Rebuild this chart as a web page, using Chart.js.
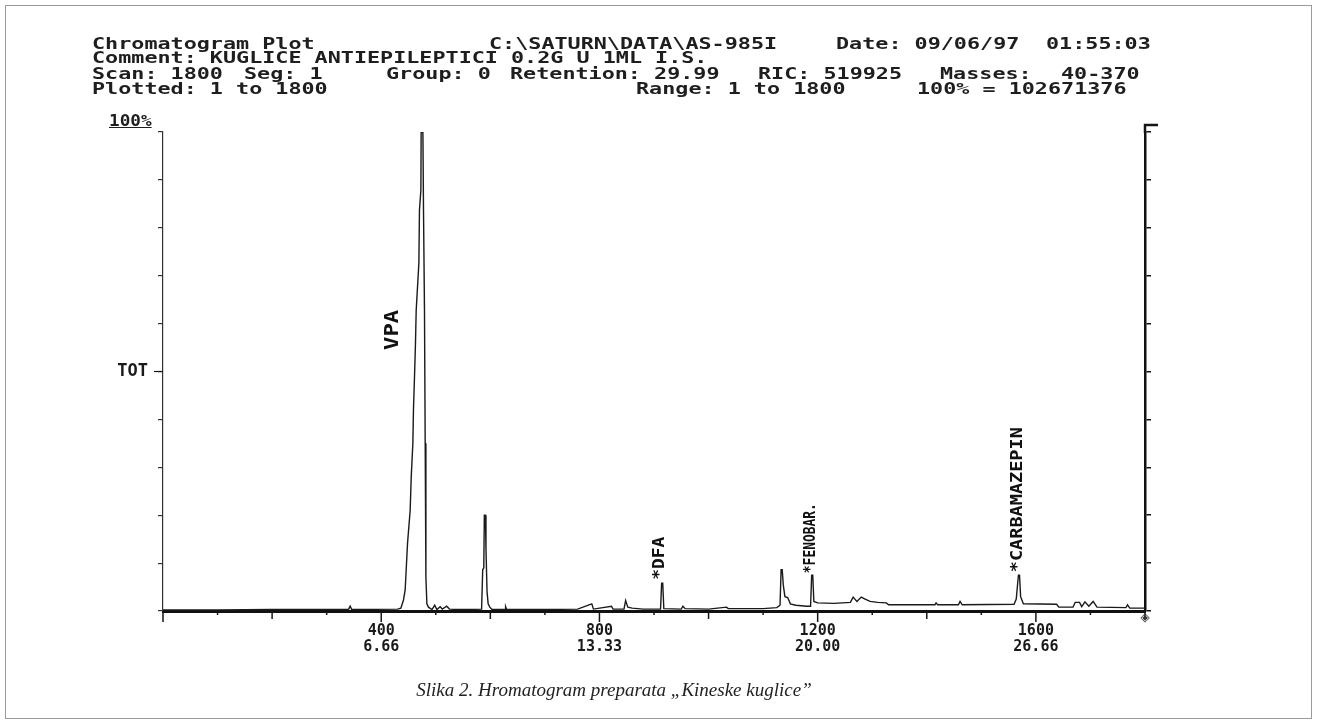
<!DOCTYPE html>
<html><head><meta charset="utf-8">
<script src="https://cdn.jsdelivr.net/npm/chart.js@4.4.0/dist/chart.umd.min.js"></script>
<style>
html,body{margin:0;padding:0;background:#fff;}
#wrap{position:relative;width:1317px;height:726px;overflow:hidden;background:#fff;}
#c{position:absolute;left:0;top:0;}
.hd{position:absolute;font:bold 15px "DejaVu Sans Mono",monospace;color:#1e1e1e;white-space:pre;transform-origin:0 50%;line-height:16px;}
#frame{position:absolute;left:5px;top:5px;width:1305px;height:712px;border:1px solid #9a9a9a;}
#cap{position:absolute;left:0;width:1228px;top:679px;text-align:center;font:italic 19px "Liberation Serif",serif;color:#222;}
</style></head><body>
<div id="wrap"><div id="frame"></div><canvas id="c" width="1317" height="726"></canvas><div id="cap">Slika 2. Hromatogram preparata „Kineske kuglice”</div></div>
<script>
// ---- data (scan number vs. total ion current, % of max) ----
const scans = [0,100,200,300,340,343,346,430,436,440.8,443.9,448.2,453.1,455,458,459.1,461,462.8,464.1,469,470.1,472.7,473.2,476.4,477.5,479.3,480.6,481.9,483.7,486.6,493,498,502,508,512,520,525,540,560,584,586,588,589,591,592,594,596,599,603,627,628,630,700,760,786,789,822,825,845,848,852,860,880,912,914,916,918,950,953,957,1000,1033,1036,1100,1125,1131,1133,1135,1137,1140,1145,1150,1160,1180,1187,1189,1191,1193,1200,1230,1260,1265,1272,1280,1287,1296,1310,1326,1330,1415,1417,1420,1458,1461,1465,1560,1564,1566,1568,1570,1572,1577,1638,1642,1668,1672,1680,1684,1690,1697,1705,1712,1765,1768,1772,1800];
const tot   = [0.2,0.2,0.3,0.3,0.3,1.0,0.3,0.4,0.6,2.3,4.4,14.1,21.1,28,35,42,48.9,55.9,62.8,72.6,83.7,87.9,100,100,83.7,62.8,35,7.1,1.5,0.8,0.3,1.2,0.3,0.9,0.4,1.0,0.4,0.3,0.3,0.4,8.6,9,20,20,13,4,1.5,0.8,0.3,0.3,0.9,0.3,0.3,0.4,1.5,0.4,1.0,0.4,0.4,2.2,0.8,0.6,0.4,0.4,5.8,5.8,0.5,0.4,1.0,0.5,0.4,0.8,0.5,0.5,0.7,1.2,8.6,8.6,5.4,3.0,2.8,1.5,1.2,1.0,1.0,7.5,7.5,2.0,1.7,1.6,1.8,2.9,2.0,2.9,2.5,2.0,1.8,1.7,1.3,1.3,1.7,1.3,1.3,2.0,1.3,1.4,2.5,5,7.5,7.5,3,1.5,1.4,0.8,0.8,1.8,1.8,0.9,1.9,1.0,2.0,0.8,0.7,1.3,0.6,0.6];

const xTickValues  = [400, 800, 1200, 1600];
const xTickMinutes = ['6.66', '13.33', '20.00', '26.66'];

const peakNames     = ['VPA', '*DFA', '*FENOBAR.', '*CARBAMAZEPIN'];
const peakScans     = [422, 912, 1188, 1567];
const peakLabelBase = [54.5, 6.5, 7.9, 8.1];

const headerLines = [
  ['Chromatogram Plot', 'C:\\SATURN\\DATA\\AS-985I', 'Date: 09/06/97', '01:55:03'],
  ['Comment: KUGLICE ANTIEPILEPTICI 0.2G U 1ML I.S.'],
  ['Scan: 1800', 'Seg: 1', 'Group: 0', 'Retention: 29.99', 'RIC: 519925', 'Masses:', '40-370'],
  ['Plotted: 1 to 1800', 'Range: 1 to 1800', '100% = 102671376']
];
// ---- layout for header text (pixels) ----
const headerX = [[92,489,836,1046],[92],[92,244,386,510,758,940,1061],[92,636,917]];
const headerY = [36,50,66,81];
const wrap = document.getElementById('wrap');
headerLines.forEach((line,i)=>line.forEach((t,j)=>{
  const d=document.createElement('div'); d.className='hd'; d.textContent=t;
  d.style.left=headerX[i][j]+'px'; d.style.top=headerY[i]+'px'; d.style.transform='scaleX(1.45)';
  wrap.appendChild(d);
}));
const pct=document.createElement('div'); pct.className='hd'; pct.textContent='100%';
pct.style.left='109px'; pct.style.top='113px'; pct.style.transform='scaleX(1.18)'; pct.style.textDecoration='underline';
wrap.appendChild(pct);

const CA = {left:163, right:1145, top:132, bottom:611};
const labelLen = [40, 43, 70, 145];
const labelSize = [19, 15, 15, 15];

const deco = {
  id:'deco',
  afterDraw(chart){
    const {ctx, chartArea:a, scales:{x,y}} = chart;
    ctx.save();
    ctx.strokeStyle='#151515';
    ctx.lineWidth=1.5;
    x.ticks.forEach(t=>{
      const v=t.value, px=x.getPixelForValue(v);
      const len = v%400===0 ? 11 : (v%200===0 ? 8 : 4);
      ctx.beginPath(); ctx.moveTo(px,a.bottom); ctx.lineTo(px,a.bottom+len); ctx.stroke();
    });
    const yt=y.getPixelForValue(50);
    ctx.lineWidth=1.2; ctx.beginPath(); ctx.moveTo(a.left-9,yt); ctx.lineTo(a.left,yt); ctx.stroke();
    ctx.lineWidth=2.5;
    ctx.beginPath(); ctx.moveTo(a.right,a.top+1); ctx.lineTo(a.right,a.top-7); ctx.lineTo(a.right+13,a.top-7); ctx.stroke();
    ctx.fillStyle='#333'; ctx.font='12px "DejaVu Sans"'; ctx.textAlign='center'; ctx.textBaseline='middle';
    ctx.fillText('◈', a.right, a.bottom+7);
    ctx.fillStyle='#111';
    peakNames.forEach((n,i)=>{
      const px=x.getPixelForValue(peakScans[i]), py=y.getPixelForValue(peakLabelBase[i]);
      ctx.save();
      ctx.translate(px,py); ctx.rotate(-Math.PI/2);
      ctx.font='bold '+labelSize[i]+'px "DejaVu Sans Mono"';
      const w=ctx.measureText(n).width;
      ctx.scale(labelLen[i]/w,1);
      ctx.textAlign='left'; ctx.textBaseline='middle';
      ctx.fillText(n,0,0);
      ctx.restore();
    });
    ctx.restore();
  }
};

new Chart(document.getElementById('c'), {
  type:'line',
  data:{datasets:[{
    data: scans.map((s,i)=>({x:s, y:tot[i]})),
    borderColor:'#1a1a1a', borderWidth:1.4, pointRadius:0, tension:0, fill:false
  }]},
  options:{
    responsive:false, animation:false, devicePixelRatio:1,
    layout:{padding:{top:CA.top, left:0, right:0, bottom:0}},
    plugins:{legend:{display:false}, tooltip:{enabled:false}, title:{display:false}},
    scales:{
      x:{type:'linear', position:'bottom', min:0, max:1800,
        afterFit(s){ s.height = 726 - CA.bottom; },
        border:{display:true, width:3, color:'#111'},
        grid:{display:true, drawOnChartArea:false, drawTicks:false},
        ticks:{stepSize:100, autoSkip:false, maxRotation:0, padding:12, labelOffset:0,
          color:'#1a1a1a', font:{family:'"DejaVu Sans Mono"', weight:'bold', size:15, lineHeight:1.07},
          callback(v){ const i=xTickValues.indexOf(v); return i>=0 ? [String(v), xTickMinutes[i]] : ''; }}
      },
      y:{type:'linear', position:'left', min:0, max:100,
        afterFit(s){ s.width = CA.left; },
        border:{display:true, width:1.2, color:'#333'},
        grid:{display:true, drawOnChartArea:false, drawTicks:true, tickLength:5, color:'#333', lineWidth:1.2},
        ticks:{stepSize:10, autoSkip:false, padding:10, color:'#1a1a1a',
          font:{family:'"DejaVu Sans Mono"', weight:'bold', size:17},
          callback(v){ return v===50 ? 'TOT' : ''; }}
      },
      y2:{type:'linear', position:'right', min:0, max:100,
        afterFit(s){ s.width = 1317 - CA.right; },
        border:{display:true, width:2.5, color:'#111'},
        grid:{display:true, drawOnChartArea:false, drawTicks:true, tickLength:6, color:'#111', lineWidth:1.5},
        ticks:{stepSize:10, autoSkip:false, callback(){ return ''; }}
      }
    }
  },
  plugins:[deco]
});
</script>
</body></html>
